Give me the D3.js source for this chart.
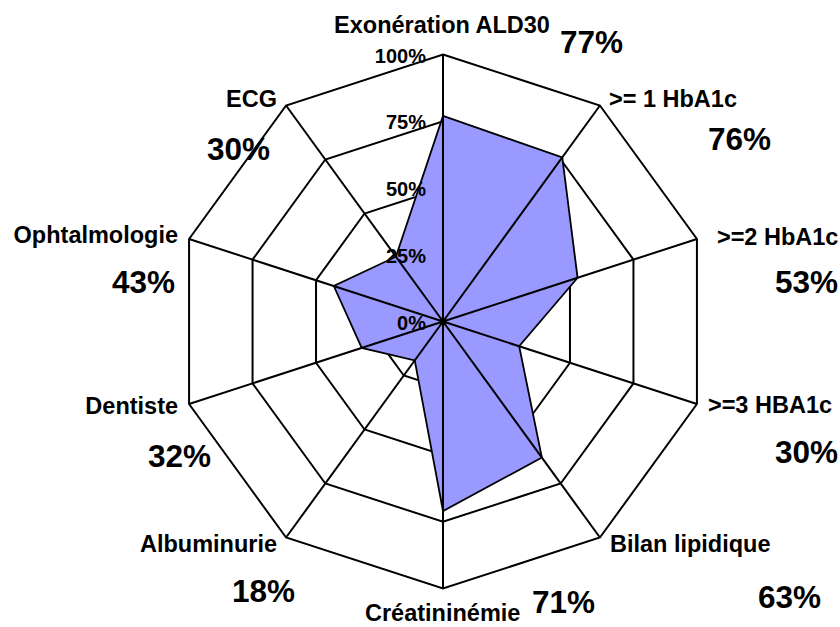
<!DOCTYPE html>
<html>
<head>
<meta charset="utf-8">
<script src="https://cdn.jsdelivr.net/npm/d3@7"></script>
<style>
  html, body { margin: 0; padding: 0; background: #fff; }
  svg { display: block; }
  text { font-family: "Liberation Sans", Arial, sans-serif; font-weight: bold; fill: #000; }
</style>
</head>
<body>
<svg id="chart" width="840" height="627"></svg>
<script>
// ---- Data ----
const categories = ["Exonération ALD30", ">= 1 HbA1c", ">=2 HbA1c", ">=3 HBA1c", "Bilan lipidique",
                    "Créatininémie", "Albuminurie", "Dentiste", "Ophtalmologie", "ECG"];
const values = [77, 76, 53, 30, 63, 71, 18, 32, 43, 30];
const tickValues = [0, 25, 50, 75, 100];
const tickLabels = ["0%", "25%", "50%", "75%", "100%"];

// ---- Layout (not data) ----
const cx = 443, cy = 321.5, R = 267;
// label offsets relative to outer vertex: [nameAnchor, ndx, ndy, pdx, pdy]
const labelLayout = [
  ["middle", -1, -22, 117, -2],
  ["start", 9, 1.5, 108, 44.5],
  ["start", 20, 6, 78, 54],
  ["start", 11, 9, 78, 59],
  ["start", 10, 14.5, 158, 70.5],
  ["start", -78, 32.5, 89, 24.5],
  ["end", -9, 14.5, -54, 64.5],
  ["end", -11, 10, -41, 63],
  ["end", -11, 4, -77, 54],
  ["end", -9, 1.5, -79, 54.5]
];

const svg = d3.select("#chart");
const n = categories.length;
const r = d3.scaleLinear().domain([0, 100]).range([0, R]);
const angle = d3.scalePoint().domain(d3.range(n + 1)).range([0, 2 * Math.PI]);
const ang = i => angle(i);
const px = (i, v) => cx + r(v) * Math.sin(ang(i));
const py = (i, v) => cy - r(v) * Math.cos(ang(i));

const g = svg.append("g");

// grid rings
const ringLine = d3.lineRadial().angle(d => ang(d.i)).radius(d => r(d.v)).curve(d3.curveLinearClosed);
g.selectAll("path.ring").data(tickValues.filter(t => t > 0)).join("path")
  .attr("class", "ring")
  .attr("transform", `translate(${cx},${cy})`)
  .attr("d", t => ringLine(d3.range(n).map(i => ({i, v: t}))))
  .attr("fill", "none").attr("stroke", "#000").attr("stroke-width", 2);

// data polygon
g.append("path")
  .attr("transform", `translate(${cx},${cy})`)
  .attr("d", ringLine(values.map((v, i) => ({i, v}))))
  .attr("fill", "#9999FF").attr("stroke", "#000").attr("stroke-width", 1.8)
  .attr("stroke-linejoin", "miter");

// spokes
g.selectAll("line.spoke").data(d3.range(n)).join("line")
  .attr("class", "spoke")
  .attr("x1", cx).attr("y1", cy)
  .attr("x2", i => px(i, 100)).attr("y2", i => py(i, 100))
  .attr("stroke", "#000").attr("stroke-width", 2);
g.append("circle").attr("cx", cx).attr("cy", cy).attr("r", 3.5).attr("fill", "#000");

// tick labels
g.selectAll("text.tick").data(tickValues).join("text")
  .attr("class", "tick")
  .attr("x", cx - 17)
  .attr("y", t => py(0, t) + 8)
  .attr("text-anchor", "end")
  .style("font-size", "20px")
  .text((t, k) => tickLabels[k]);

// category labels
g.selectAll("text.cat").data(categories).join("text")
  .attr("class", "cat")
  .attr("x", (d, i) => px(i, 100) + labelLayout[i][1])
  .attr("y", (d, i) => py(i, 100) + labelLayout[i][2])
  .attr("text-anchor", (d, i) => labelLayout[i][0])
  .style("font-size", "23.5px")
  .text(d => d);

// value labels
g.selectAll("text.val").data(values).join("text")
  .attr("class", "val")
  .attr("x", (d, i) => px(i, 100) + labelLayout[i][3])
  .attr("y", (d, i) => py(i, 100) + labelLayout[i][4])
  .attr("text-anchor", "start")
  .style("font-size", "31.5px")
  .text(d => d + "%");
</script>
</body>
</html>
